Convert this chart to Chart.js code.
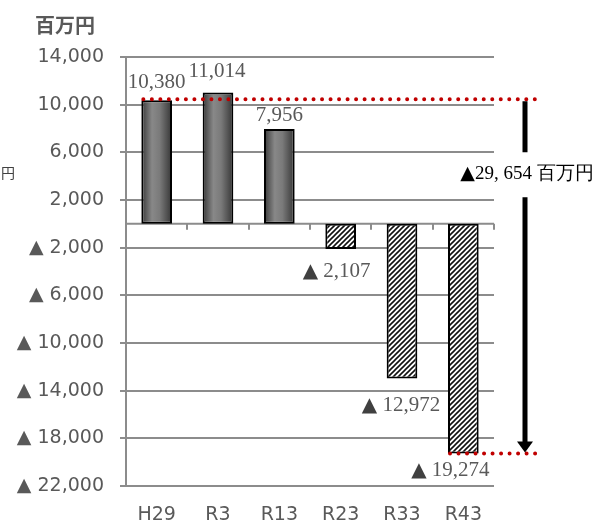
<!DOCTYPE html>
<html>
<head>
<meta charset="utf-8">
<script src="https://cdn.jsdelivr.net/npm/chart.js@4"></script>
<style>
  html, body { margin: 0; padding: 0; background: #fff; }
  canvas { display: block; }
</style>
</head>
<body>
<canvas id="balanceChart" width="598" height="520"></canvas>
<script>
// 収支見通し (百万円)
const years = ["H29", "R3", "R13", "R23", "R33", "R43"];
const balance = [10380, 11014, 7956, -2107, -12972, -19274];
const yTicks = [14000, 10000, 6000, 2000, -2000, -6000, -10000, -14000, -18000, -22000];
const unitLabel = "百万円";
const gapLabel = "▲29, 654 百万円";

const fmt = v => (v < 0 ? "▲ " : "") + Math.abs(v).toLocaleString("en-US");

// diagonal hatch for the negative bars
function makeHatch() {
  const s = 5;
  const c = document.createElement("canvas");
  c.width = s; c.height = s;
  const g = c.getContext("2d");
  g.fillStyle = "#fff";
  g.fillRect(0, 0, s, s);
  g.strokeStyle = "#111";
  g.lineWidth = 1.6;
  g.beginPath();
  g.moveTo(0, s); g.lineTo(s, 0);
  g.moveTo(-1, 1); g.lineTo(1, -1);
  g.moveTo(s - 1, s + 1); g.lineTo(s + 1, s - 1);
  g.stroke();
  return g.createPattern(c, "repeat");
}
const hatch = makeHatch();

function barFill(c) {
  if (c.raw < 0) return hatch;
  const xs = c.chart.scales.x;
  if (!xs || !c.chart.chartArea) return "#666";
  const cx = xs.getPixelForValue(c.dataIndex);
  const w = (xs.width / years.length) * 0.5;
  const g = c.chart.ctx.createLinearGradient(cx - w / 2, 0, cx + w / 2, 0);
  g.addColorStop(0, "#383838");
  g.addColorStop(0.35, "#888");
  g.addColorStop(0.6, "#7a7a7a");
  g.addColorStop(1, "#353535");
  return g;
}

// label with a larger sans ▲ followed by serif text, centred on cx
function drawLabel(ctx, text, cx, cy, size, triSize, triColor, color) {
  const neg = text.startsWith("▲");
  const rest = neg ? text.slice(1) : text;
  const serif = size + "px 'Liberation Serif', serif";
  const sans = triSize + "px 'DejaVu Sans', sans-serif";
  ctx.font = serif;
  const wr = ctx.measureText(rest).width;
  let wt = 0;
  if (neg) { ctx.font = sans; wt = ctx.measureText("▲").width; }
  let x = cx - (wt + wr) / 2;
  ctx.textAlign = "left";
  ctx.textBaseline = "middle";
  if (neg) {
    ctx.fillStyle = triColor;
    ctx.fillText("▲", x, cy);
    x += wt;
  }
  ctx.font = serif;
  ctx.fillStyle = color;
  ctx.fillText(rest, x, cy);
}

const extras = {
  id: "extras",
  beforeDatasetsDraw(chart) {
    const { ctx, chartArea: a, scales: { y } } = chart;
    const y0 = y.getPixelForValue(0);
    const step = (a.right - a.left) / years.length;
    ctx.save();
    ctx.strokeStyle = "#8c8c8c";
    ctx.lineWidth = 2;
    ctx.beginPath();
    ctx.moveTo(a.left, y0);
    ctx.lineTo(a.right, y0);
    for (let k = 1; k <= years.length; k++) {
      const px = Math.round(a.left + k * step);
      ctx.moveTo(px, y0);
      ctx.lineTo(px, y0 + 6);
    }
    ctx.stroke();
    ctx.restore();
  },
  afterDatasetsDraw(chart) {
    const { ctx, chartArea: a, scales: { y } } = chart;
    const bars = chart.getDatasetMeta(0).data;
    const first = bars[0], last = bars[bars.length - 1];
    const yTop = y.getPixelForValue(balance[0]);
    const yBot = y.getPixelForValue(balance[balance.length - 1]);
    ctx.save();

    // red dotted guides
    ctx.strokeStyle = "#c00000";
    ctx.lineWidth = 4;
    ctx.lineCap = "round";
    ctx.setLineDash([0.01, 8.5]);
    ctx.beginPath();
    ctx.moveTo(first.x - first.width / 2 + 2, yTop - 1);
    ctx.lineTo(a.right + 47, yTop - 1);
    ctx.moveTo(last.x - last.width / 2 + 2, yBot);
    ctx.lineTo(a.right + 48, yBot);
    ctx.stroke();
    ctx.setLineDash([]);

    // difference arrow
    const ax = a.right + 31;
    const ly = yTop + 74;
    ctx.strokeStyle = "#000";
    ctx.lineWidth = 5;
    ctx.lineCap = "butt";
    ctx.beginPath();
    ctx.moveTo(ax, yTop + 1);
    ctx.lineTo(ax, ly - 22);
    ctx.moveTo(ax, ly + 23);
    ctx.lineTo(ax, yBot - 11);
    ctx.stroke();
    ctx.fillStyle = "#000";
    ctx.beginPath();
    ctx.moveTo(ax - 8, yBot - 12);
    ctx.lineTo(ax + 8, yBot - 12);
    ctx.lineTo(ax, yBot - 1);
    ctx.closePath();
    ctx.fill();
    drawLabel(ctx, gapLabel, ax + 2, ly, 19, 19, "#000", "#000");

    // value labels
    const dx = [0, -1, 0, -4, -1, -13];
    const dy = [-18, -21, -14, 23, 27, 17];
    bars.forEach((b, i) => {
      drawLabel(ctx, fmt(balance[i]), b.x + dx[i], b.y + dy[i], 21, 20, "#404040", "#595959");
    });

    // unit titles
    ctx.textAlign = "left";
    ctx.textBaseline = "middle";
    ctx.fillStyle = "#595959";
    ctx.font = "bold 20px 'Noto Sans CJK JP', sans-serif";
    ctx.fillText(unitLabel, 35, 25);
    ctx.fillStyle = "#404040";
    ctx.font = "14px 'Noto Sans CJK JP', sans-serif";
    ctx.fillText("円", 1, 173);
    ctx.restore();
  }
};

new Chart(document.getElementById("balanceChart"), {
  type: "bar",
  data: {
    labels: years,
    datasets: [{
      data: balance,
      backgroundColor: barFill,
      borderColor: "#000",
      borderWidth: 2,
      borderSkipped: false,
      categoryPercentage: 1,
      barPercentage: 0.5
    }]
  },
  options: {
    responsive: false,
    animation: false,
    layout: { padding: { top: 57, right: 104, left: 0, bottom: 0 } },
    plugins: { legend: { display: false }, tooltip: { enabled: false } },
    scales: {
      x: {
        grid: { display: false, drawTicks: false },
        border: { display: false },
        afterFit: s => { s.height = 34; },
        ticks: { color: "#595959", font: { family: "DejaVu Sans", size: 19 }, padding: 18 }
      },
      y: {
        min: -22000,
        max: 14000,
        afterBuildTicks: s => { s.ticks = yTicks.map(v => ({ value: v })); },
        afterFit: s => { s.width = 126; },
        grid: { color: "#8c8c8c", lineWidth: 2, tickLength: 6 },
        border: { color: "#8c8c8c", width: 2 },
        ticks: {
          color: "#595959",
          font: { family: "DejaVu Sans", size: 19 },
          padding: 16,
          callback: v => fmt(v)
        }
      }
    }
  },
  plugins: [extras]
});
</script>
</body>
</html>
